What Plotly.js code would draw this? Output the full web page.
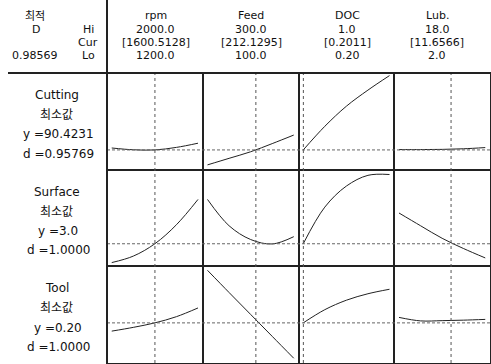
<!DOCTYPE html>
<html><head><meta charset="utf-8">
<script src="https://cdn.plot.ly/plotly-3.0.1.min.js"></script>
<style>html,body{margin:0;padding:0;background:#fff}</style>
</head><body><div id="chart" style="width:491px;height:364px"></div>
<script>
// ---- data ----
const factors = ['rpm', 'Feed', 'DOC', 'Lub.'];
const factorHi = ['2000.0', '300.0', '1.0', '18.0'];
const factorCurText = ['[1600.5128]', '[212.1295]', '[0.2011]', '[11.6566]'];
const factorLo = ['1200.0', '100.0', '0.20', '2.0'];
const loVals = [1200, 100, 0.2, 2];
const hiVals = [2000, 300, 1.0, 18];
const curVals = [1600.5128, 212.1295, 0.2011, 11.6566];

const rpmX = [1200, 1400, 1600, 1800, 2000];
const feedX = [100, 150, 200, 250, 300];
const docX = [0.2, 0.4, 0.6, 0.8, 1.0];
const lubX = [2, 6, 10, 14, 18];

const responses = ['Cutting', 'Surface', 'Tool'];
const goals = ['최소값', '최소값', '최소값'];
const respYText = ['y =90.4231', 'y =3.0', 'y =0.20'];
const respDText = ['d =0.95769', 'd =1.0000', 'd =1.0000'];
const respCur = [90.4231, 3.0, 0.20];
const compTitle = '최적';
const compName = 'D';
const compValue = '0.98569';
const hiCurLo = ['Hi', 'Cur', 'Lo'];

const cuttingRpm  = [91.4, 90.5, 90.42, 91.7, 93.8];
const cuttingFeed = [82.9, 86.2, 89.5, 93.6, 97.9];
const cuttingDoc  = [90.42, 102.3, 112.4, 120.5, 127.8];
const cuttingLub  = [90.6, 90.6, 90.7, 91.0, 91.6];

const surfaceRpm  = [2.07, 2.39, 3.0, 3.94, 5.19];
const surfaceFeed = [5.19, 3.89, 3.21, 2.99, 3.35];
const surfaceDoc  = [3.0, 4.81, 5.85, 6.38, 6.42];
const surfaceLub  = [4.52, 3.89, 3.27, 2.76, 2.30];

const toolRpm  = [0.167, 0.182, 0.200, 0.225, 0.260];
const toolFeed = [0.411, 0.322, 0.234, 0.146, 0.058];
const toolDoc  = [0.200, 0.253, 0.291, 0.317, 0.335];
const toolLub  = [0.222, 0.208, 0.209, 0.211, 0.214];

// ---- build ----
const xs = [rpmX, feedX, docX, lubX];
const ys = [
  [cuttingRpm, cuttingFeed, cuttingDoc, cuttingLub],
  [surfaceRpm, surfaceFeed, surfaceDoc, surfaceLub],
  [toolRpm, toolFeed, toolDoc, toolLub]
];
const yRanges = [[80.5, 129.1], [1.885, 6.66], [0.039, 0.427]];

const W = 491, H = 364, ML = 107, MR = 1, MT = 73, MB = 1;
const PW = W - ML - MR, PH = H - MT - MB;
const px = x => (x - ML) / PW;
const py = y => (H - MB - y) / PH;

const xName = c => c === 0 ? 'x' : 'x' + (c + 1);
const yName = r => r === 0 ? 'y' : 'y' + (r + 1);
const axKey = (a, i) => a + 'axis' + (i === 0 ? '' : (i + 1));

const FONT = 'DejaVu Sans, Noto Sans CJK KR, sans-serif';
const traces = [];
for (let r = 0; r < 3; r++) {
  for (let c = 0; c < 4; c++) {
    traces.push({
      type: 'scatter', mode: 'lines', x: xs[c], y: ys[r][c],
      xaxis: xName(c), yaxis: yName(r),
      line: {color: '#222', width: 1, shape: 'spline', smoothing: 1},
      hoverinfo: 'skip', showlegend: false
    });
  }
}

const layout = {
  width: W, height: H,
  margin: {l: ML, r: MR, t: MT, b: MB, pad: 0},
  paper_bgcolor: '#fff', plot_bgcolor: '#fff',
  showlegend: false,
  font: {family: FONT, size: 12, color: '#111'},
  shapes: [], annotations: []
};

const axCommon = {
  showgrid: false, zeroline: false, showticklabels: false, ticks: '',
  showline: true, mirror: 'all', linecolor: '#222', linewidth: 1, fixedrange: true
};
for (let c = 0; c < 4; c++) {
  const span = hiVals[c] - loVals[c];
  layout[axKey('x', c)] = Object.assign({}, axCommon, {
    domain: [c / 4, (c + 1) / 4], anchor: 'y3',
    range: [loVals[c] - 0.055 * span, hiVals[c] + 0.055 * span]
  });
}
for (let r = 0; r < 3; r++) {
  layout[axKey('y', r)] = Object.assign({}, axCommon, {
    domain: [1 - (r + 1) / 3, 1 - r / 3], anchor: 'x',
    range: yRanges[r]
  });
}

// current factor settings (vertical) and current responses (horizontal)
for (let c = 0; c < 4; c++) {
  layout.shapes.push({type: 'line', xref: xName(c), yref: 'paper',
    x0: curVals[c], x1: curVals[c], y0: 0, y1: 1,
    line: {color: '#555', width: 1, dash: 'dot'}});
}
for (let r = 0; r < 3; r++) {
  layout.shapes.push({type: 'line', xref: 'paper', yref: yName(r),
    x0: 0, x1: 1, y0: respCur[r], y1: respCur[r],
    line: {color: '#666', width: 1, dash: '3px,2px'}});
}
// frame lines of the header area
layout.shapes.push({type: 'line', xref: 'paper', yref: 'paper',
  x0: 0, x1: 0, y0: py(H), y1: py(0), line: {color: '#222', width: 2}});
layout.shapes.push({type: 'line', xref: 'paper', yref: 'paper',
  x0: px(8), x1: 1, y0: 1, y1: 1, line: {color: '#222', width: 2}});

function ann(text, x, y, size) {
  layout.annotations.push({text: text, xref: 'paper', yref: 'paper',
    x: px(x), y: py(y), xanchor: 'center', yanchor: 'middle', borderpad: 0,
    showarrow: false, font: {family: FONT, size: size || 12, color: '#111'}});
}
const colCenters = [155.5, 251, 347, 437];
const headY = [15.5, 29.5, 42.3, 55.1];
const HS = 11;
for (let c = 0; c < 4; c++) {
  ann(factors[c], colCenters[c], headY[0], HS);
  ann(factorHi[c], colCenters[c], headY[1], HS);
  ann(factorCurText[c], colCenters[c], headY[2], HS);
  ann(factorLo[c], colCenters[c], headY[3], HS);
}
ann(compTitle, 35, 16.5, HS);
ann(compName, 36, headY[1], HS);
ann(compValue, 35, headY[3], HS);
ann(hiCurLo[0], 88, headY[1], HS);
ann(hiCurLo[1], 88, headY[2], HS);
ann(hiCurLo[2], 88, headY[3], HS);

const rowLabelY = [[95, 115, 133.5, 153.5], [192, 212, 231, 249.7], [288, 308, 328, 346.7]];
for (let r = 0; r < 3; r++) {
  ann(responses[r], 57, rowLabelY[r][0], 12);
  ann(goals[r], 57, rowLabelY[r][1], 12);
  ann(respYText[r], 58, rowLabelY[r][2], 12);
  ann(respDText[r], 58, rowLabelY[r][3], 12);
}

Plotly.newPlot('chart', traces, layout, {staticPlot: true, displayModeBar: false});
</script></body></html>
